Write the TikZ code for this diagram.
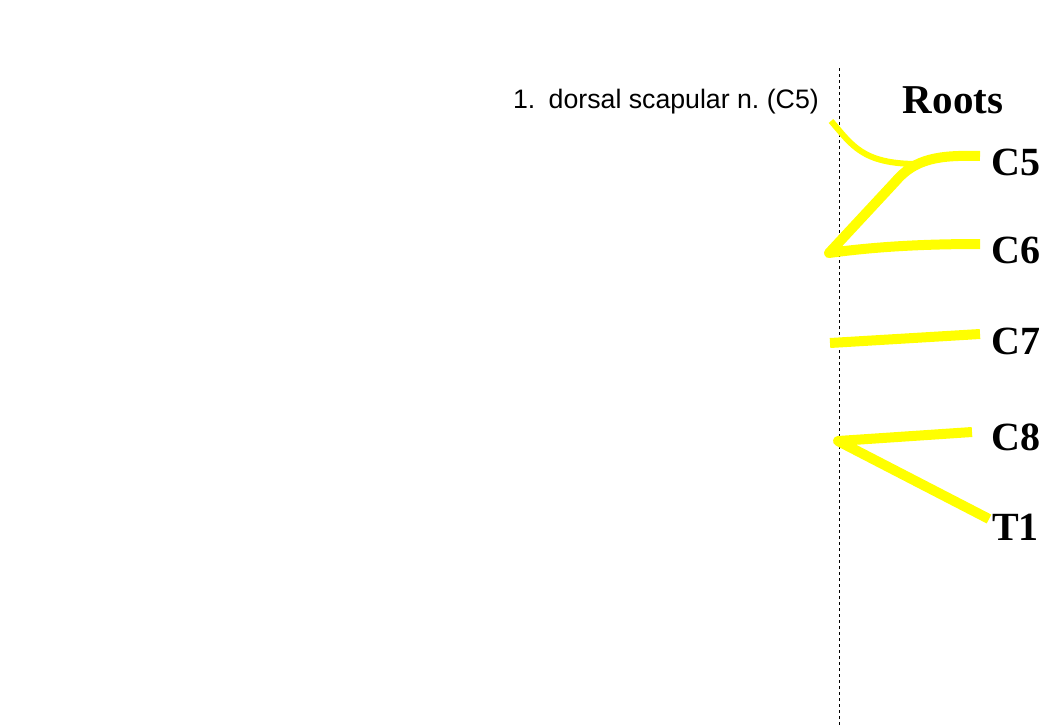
\documentclass[tikz,border=0pt]{standalone}
\usepackage{fontspec}
\setmainfont{Liberation Serif}
\newfontfamily\arialfont{Liberation Sans}
\definecolor{nerve}{RGB}{255,255,0}
\frenchspacing
\begin{document}
\begin{tikzpicture}[x=1pt,y=-1pt,
  rootlabel/.style={anchor=west,inner sep=0pt,font=\fontsize{40}{40}\selectfont\bfseries},
  rootline/.style={draw=nerve,line width=10pt,line cap=butt,line join=round},
  thinline/.style={draw=nerve,line width=6pt,line cap=butt}]
\useasboundingbox (0,0) rectangle (1060,726);
\fill[white] (0,0) rectangle (1060,726);
% dashed midline
\coordinate (dtop) at (839,68);
\coordinate (dbot) at (839,726);
\draw[dashed,line width=0.8pt] (dtop) -- (dbot);
% title and labels
\node[inner sep=0pt,font=\fontsize{41}{41}\selectfont\bfseries] (roots) at (953,100) {Roots};
\node[rootlabel] (c5) at (991,162) {C5};
\node[rootlabel] (c6) at (991,250) {C6};
\node[rootlabel] (c7) at (991,341) {C7};
\node[rootlabel] (c8) at (991,437) {C8};
\node[rootlabel] (t1) at (992,527) {T1};
\node[anchor=east,inner sep=0pt,font=\arialfont\fontsize{26.7}{26.7}\selectfont] (dsn) at (819,102) {1.\hspace{0.5em}dorsal scapular n. (C5)};
% coordinates
\coordinate (c5r) at (980,156);
\coordinate (c5b) at (895,182);
\coordinate (c5j) at (918,164);
\coordinate (c6l) at (829,253);
\coordinate (c6r) at (980,244);
\coordinate (c7l) at (830,343);
\coordinate (c7r) at (980,334);
\coordinate (c8l) at (838,441);
\coordinate (c8r) at (972,432);
\coordinate (t1r) at (989,519);
\coordinate (dss) at (831,121);
% nerves
\draw[thinline] (dss) .. controls (852,145) and (862,164) .. (c5j);
\draw[rootline] (c5r) .. controls (940,155) and (915,158) .. (c5b) -- (c6l) .. controls (880,246) and (930,244) .. (c6r);
\draw[rootline] (c7l) -- (c7r);
\draw[rootline] (c8r) -- (c8l) -- (t1r);
\end{tikzpicture}
\end{document}
